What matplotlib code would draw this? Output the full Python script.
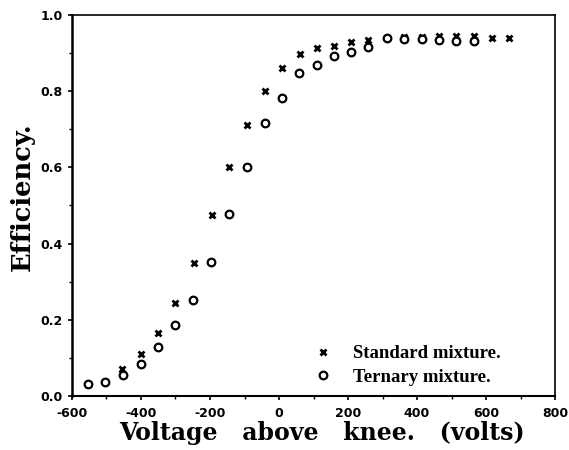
import matplotlib
matplotlib.use("Agg")
import matplotlib.pyplot as plt
from matplotlib.ticker import MultipleLocator

# standard mixture (x markers)
std_v = [-454, -401, -351, -300, -247, -193, -144, -92, -40, 10, 61, 109, 159,
         209, 259, 312, 362, 413, 463, 512, 565, 617, 667]
std_eff = [0.07, 0.11, 0.165, 0.245, 0.35, 0.475, 0.60, 0.71, 0.80, 0.862, 0.897,
           0.914, 0.919, 0.93, 0.934, 0.939, 0.941, 0.941, 0.946, 0.945, 0.946, 0.939, 0.94]

# ternary mixture (open circles)
ter_v = [-554, -504, -452, -401, -350, -301, -248, -196, -144, -94, -42, 8, 57,
         109, 159, 209, 259, 312, 362, 413, 463, 512, 565]
ter_eff = [0.031, 0.037, 0.054, 0.083, 0.128, 0.186, 0.252, 0.352, 0.477, 0.60,
           0.717, 0.782, 0.849, 0.869, 0.892, 0.904, 0.915, 0.939, 0.936, 0.938,
           0.934, 0.932, 0.931]

xticks = [-600, -400, -200, 0, 200, 400, 600, 800]
yticks = [0.0, 0.2, 0.4, 0.6, 0.8, 1.0]

fig = plt.figure(figsize=(5.69, 4.5), dpi=100)
ax = fig.add_axes([0.1265, 0.12, 0.849, 0.8467])

ax.plot(std_v, std_eff, "x", color="black", ms=4, mew=2, ls="none",
        label="Standard mixture.")
ax.plot(ter_v, ter_eff, "o", color="black", mfc="white", ms=5.5, mew=1.6, ls="none",
        label="Ternary mixture.")

ax.set_xlim(-600, 800)
ax.set_ylim(0, 1.0)
ax.set_xticks(xticks)
ax.set_yticks(yticks)
ax.xaxis.set_minor_locator(MultipleLocator(100))
ax.yaxis.set_minor_locator(MultipleLocator(0.1))
ax.tick_params(which="major", direction="out", length=3, width=1.2)
ax.tick_params(which="minor", direction="out", length=2, width=1)
ax.tick_params(axis="x", which="major", pad=5)
ax.set_xticklabels([str(t) for t in xticks], fontsize=9, fontweight="bold")
ax.set_yticklabels([f"{t:.1f}" for t in yticks], fontsize=9, fontweight="bold")

ax.spines["left"].set_linewidth(1.8)
ax.spines["bottom"].set_linewidth(1.5)
ax.spines["top"].set_linewidth(1.2)
ax.spines["right"].set_linewidth(1.2)

ax.set_xlabel("Voltage   above   knee.   (volts)", fontsize=17,
              family="DejaVu Serif", fontweight="bold")
ax.xaxis.set_label_coords(0.517, -0.066)
ax.set_ylabel("Efficiency.", fontsize=18.5, family="DejaVu Serif", fontweight="bold")
ax.yaxis.set_label_coords(-0.077, 0.522)

ax.legend(loc=(0.48, 0.007), frameon=False, handletextpad=1.0, labelspacing=0.35,
          handlelength=1.2, prop={"family": "Liberation Serif", "weight": "bold", "size": 13.5})

fig.savefig("out.png", dpi=100)
